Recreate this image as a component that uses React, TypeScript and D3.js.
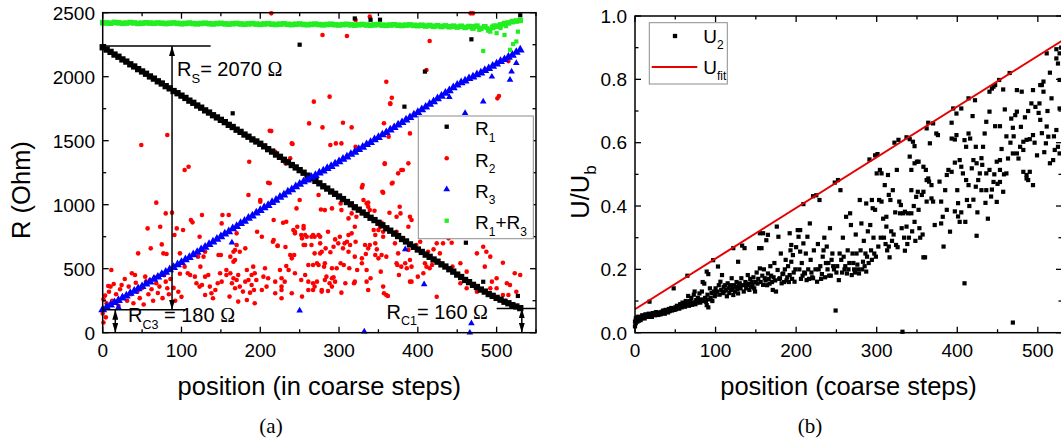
import React from 'react';
import * as d3 from 'd3';

// ---------- data ----------
const STEP = 5; // R1, R3, R1+R3 are listed every 5 coarse steps from 0
const R1 = [2230,2212,2194,2173,2156,2135,2118,2097,2080,2059,2041,2023,2002,1985,1964,1947,1926,1909,1888,1871,1852,1834,1813,1796,1775,1758,1737,1720,1699,1682,1663,1645,1624,1607,1586,1569,1548,1531,1510,1494,1476,1456,1434,1415,1392,1374,1351,1332,1310,1291,1270,1250,1227,1208,1186,1167,1144,1126,1103,1085,1064,1044,1021,1003,980,961,939,920,898,880,859,839,816,797,774,755,732,713,690,671,650,631,610,593,572,555,534,517,496,477,454,435,412,395,374,357,337,321,302,288,272,258,242,230,215,205,192];
const R3 = [180,199,216,236,252,272,288,308,324,344,361,381,397,418,435,456,473,493,510,531,549,570,588,610,628,650,668,690,709,731,750,772,790,813,831,854,872,895,913,936,955,977,995,1018,1036,1059,1077,1100,1118,1141,1160,1179,1194,1214,1229,1249,1264,1284,1299,1319,1336,1356,1373,1394,1411,1432,1449,1470,1487,1508,1526,1546,1564,1585,1603,1624,1642,1663,1681,1702,1721,1743,1763,1786,1805,1829,1848,1871,1891,1914,1935,1953,1967,1986,1999,2016,2029,2049,2064,2083,2100,2119,2134,2153,2169,2191,2210];
const R13 = [2422,2420,2418,2424,2421,2417,2419,2423,2420,2416,2418,2421,2419,2417,2420,2418,2415,2418,2420,2417,2414,2416,2419,2415,2413,2416,2418,2414,2412,2415,2417,2413,2411,2414,2416,2412,2410,2413,2415,2411,2409,2412,2414,2410,2408,2411,2413,2409,2407,2410,2412,2408,2406,2409,2411,2407,2405,2408,2410,2406,2404,2407,2409,2405,2403,2406,2408,2404,2402,2405,2407,2403,2401,2404,2406,2402,2400,2403,2405,2401,2399,2402,2396,2400,2394,2398,2392,2397,2390,2395,2388,2394,2385,2392,2380,2395,2378,2390,2365,2385,2395,2405,2415,2420,2430,2435,2440];
const R1_EXTRA = [[165,1714],[250,2250],[320,2455],[340,2445],[352,2445],[383,1766],[409,2040],[461,703],[468,2292],[483,398],[527,287],[530,2480]];
const R3_EXTRA = [[20,198],[164,704],[250,172],[332,8],[384,652],[408,378],[466,0],[468,73],[440,1840],[460,1716],[483,1806],[494,2000],[517,1975],[519,2040],[525,2106]];
const R13_EXTRA = [[483,2201],[517,2210],[521,2255],[525,2275],[510,2326],[527,2352],[500,2340],[492,2352],[470,2395],[478,2365],[488,2380],[496,2400],[505,2380],[512,2395]];
const R2 = [[0,150],[1,80],[1,260],[3,290],[4,120],[5,230],[7,365],[8,320],[10,360],[11,490],[12,250],[14,380],[17,300],[20,210],[22,340],[24,372],[26,280],[28,420],[31,250],[33,360],[36,300],[37,464],[39,230],[41,451],[42,390],[44,320],[45,620],[47,270],[49,1466],[50,350],[52,220],[54,438],[55,400],[57,815],[58,300],[60,412],[61,659],[62,340],[64,250],[66,430],[68,386],[68,1016],[70,310],[72,360],[73,828],[75,690],[76,270],[77,620],[78,450],[80,399],[80,932],[81,615],[82,347],[82,1544],[84,300],[86,420],[88,938],[90,350],[91,763],[92,250],[94,815],[96,320],[98,460],[98,620],[100,280],[102,802],[104,516],[104,1271],[108,464],[109,1297],[111,451],[112,880],[114,862],[117,438],[119,386],[121,594],[123,750],[123,360],[124,516],[126,373],[126,919],[128,594],[130,295],[130,633],[130,438],[134,451],[136,360],[138,308],[140,269],[143,334],[146,386],[147,607],[149,464],[150,607],[151,399],[151,854],[152,919],[157,451],[157,490],[160,919],[161,282],[162,594],[162,464],[164,386],[166,633],[166,555],[166,425],[168,568],[168,646],[168,347],[170,412],[170,685],[170,776],[172,451],[172,243],[174,633],[174,360],[178,321],[181,659],[181,399],[183,256],[183,490],[185,412],[185,1076],[186,1336],[187,313],[189,373],[189,451],[191,516],[192,334],[193,464],[193,230],[195,412],[196,789],[200,1037],[200,1024],[202,750],[202,334],[204,438],[206,503],[208,360],[210,425],[210,1172],[212,1578],[212,1167],[214,1575],[214,2495],[216,711],[217,880],[217,724],[219,399],[219,308],[219,1414],[222,680],[222,677],[225,490],[227,425],[227,334],[227,269],[227,360],[229,859],[231,399],[232,669],[232,1323],[233,521],[233,867],[236,490],[238,607],[238,1362],[240,581],[240,308],[240,1479],[241,1474],[242,802],[243,607],[244,789],[244,776],[244,464],[246,971],[247,828],[250,1037],[252,763],[252,412],[253,737],[253,282],[255,685],[255,815],[255,833],[257,685],[257,451],[257,763],[259,750],[261,399],[261,529],[261,334],[262,1635],[265,685],[265,750],[267,334],[267,386],[267,529],[267,763],[268,1805],[269,750],[269,360],[269,620],[272,542],[272,399],[274,529],[274,763],[274,1076],[276,620],[276,698],[276,750],[277,963],[278,334],[278,321],[278,633],[279,2326],[279,1604],[281,516],[282,412],[282,542],[282,958],[283,659],[284,438],[286,326],[286,789],[288,386],[288,1844],[289,628],[289,1466],[291,425],[291,971],[291,360],[291,503],[293,433],[293,672],[295,399],[295,729],[296,1479],[297,503],[299,1063],[299,698],[301,750],[302,542],[302,1010],[303,1479],[303,958],[303,313],[305,1640],[305,659],[306,529],[307,698],[308,386],[310,711],[310,2318],[312,893],[312,763],[312,633],[313,503],[314,685],[316,776],[316,998],[316,1604],[316,932],[319,386],[320,399],[320,594],[320,828],[321,711],[321,1453],[321,2443],[322,906],[323,490],[329,1135],[329,581],[329,542],[330,1153],[331,1037],[333,685],[334,615],[335,490],[335,399],[335,1010],[337,334],[337,1016],[337,984],[337,659],[339,685],[339,958],[339,2469],[340,425],[344,802],[345,953],[346,698],[346,763],[346,607],[348,651],[350,802],[350,581],[352,828],[353,477],[354,859],[354,607],[355,1101],[356,750],[356,1094],[356,789],[356,360],[357,308],[357,1636],[358,1318],[358,1323],[360,295],[360,1961],[360,594],[362,287],[363,1531],[364,937],[365,1787],[365,1792],[367,1836],[367,1166],[368,1172],[371,698],[373,906],[373,542],[373,789],[374,529],[375,1245],[375,620],[376,451],[377,984],[378,932],[379,516],[379,1271],[381,1271],[384,542],[386,503],[388,828],[388,1323],[388,646],[390,1557],[390,568],[390,906],[390,399],[392,399],[392,880],[392,516],[398,685],[400,438],[403,711],[403,849],[407,464],[409,542],[411,516],[411,2052],[413,633],[415,2279],[415,503],[418,529],[420,651],[424,698],[424,281],[428,620],[432,698],[439,737],[443,703],[444,516],[454,542],[454,386],[462,477],[462,347],[467,2495],[470,2495],[475,620],[475,320],[483,672],[485,516],[487,633],[492,594],[492,347],[494,399],[500,425],[500,347],[501,1831],[503,1849],[508,547],[508,295],[513,386],[515,2122],[515,295],[517,373],[523,464],[525,320],[530,451]];
const U2 = [[0,0.02],[0,0.035],[1,0.03],[1,0.045],[2,0.04],[3,0.035],[3,0.05],[4,0.042],[5,0.038],[5,0.05],[6,0.045],[7,0.04],[8,0.05],[8,0.045],[9,0.055],[10,0.048],[11,0.052],[12,0.045],[13,0.058],[14,0.05],[15,0.055],[16,0.05],[17,0.06],[18,0.098],[18,0.052],[19,0.058],[20,0.055],[21,0.05],[22,0.062],[23,0.056],[24,0.06],[25,0.055],[26,0.065],[27,0.058],[28,0.062],[29,0.056],[30,0.064],[31,0.06],[32,0.058],[33,0.066],[34,0.062],[35,0.07],[36,0.064],[37,0.06],[38,0.072],[39,0.066],[40,0.07],[41,0.064],[42,0.075],[43,0.068],[44,0.072],[45,0.078],[46,0.07],[47,0.075],[48,0.14],[49,0.072],[50,0.08],[51,0.074],[52,0.085],[53,0.078],[54,0.082],[55,0.076],[56,0.09],[57,0.084],[58,0.08],[59,0.095],[60,0.085],[61,0.09],[62,0.082],[63,0.1],[64,0.088],[65,0.18],[66,0.095],[66,0.116],[67,0.085],[68,0.1],[69,0.092],[70,0.11],[71,0.088],[72,0.096],[73,0.12],[74,0.13],[75,0.09],[76,0.103],[77,0.095],[78,0.11],[79,0.1],[80,0.124],[81,0.095],[82,0.105],[83,0.13],[84,0.16],[85,0.1],[86,0.155],[87,0.11],[88,0.098],[89,0.193],[89,0.087],[90,0.12],[91,0.185],[91,0.08],[92,0.105],[93,0.14],[94,0.11],[95,0.125],[96,0.1],[97,0.229],[98,0.13],[99,0.115],[100,0.14],[100,0.12],[102,0.13],[103,0.209],[104,0.15],[105,0.12],[106,0.161],[107,0.135],[108,0.182],[109,0.125],[110,0.145],[111,0.13],[112,0.15],[113,0.135],[114,0.115],[115,0.156],[116,0.14],[117,0.125],[118,0.15],[119,0.135],[120,0.172],[121,0.14],[122,0.119],[122,0.267],[123,0.15],[124,0.13],[125,0.145],[126,0.16],[127,0.138],[128,0.124],[128,0.224],[129,0.15],[130,0.156],[131,0.14],[132,0.172],[133,0.275],[134,0.15],[135,0.13],[136,0.267],[137,0.16],[138,0.14],[139,0.15],[140,0.182],[141,0.155],[142,0.135],[143,0.17],[144,0.145],[145,0.16],[146,0.15],[147,0.175],[148,0.14],[149,0.13],[150,0.16],[151,0.19],[152,0.155],[153,0.17],[154,0.267],[155,0.203],[155,0.314],[156,0.16],[157,0.267],[158,0.18],[159,0.151],[159,0.314],[160,0.2],[161,0.172],[162,0.165],[163,0.292],[164,0.15],[165,0.187],[165,0.309],[166,0.17],[167,0.155],[168,0.21],[169,0.18],[170,0.16],[171,0.135],[172,0.175],[173,0.22],[174,0.165],[175,0.13],[176,0.335],[177,0.198],[178,0.303],[179,0.17],[180,0.172],[181,0.25],[182,0.156],[183,0.185],[184,0.187],[185,0.16],[186,0.2],[187,0.23],[188,0.165],[189,0.175],[190,0.21],[191,0.16],[192,0.182],[192,0.314],[193,0.26],[194,0.224],[194,0.277],[195,0.17],[196,0.245],[197,0.19],[198,0.161],[199,0.2],[200,0.27],[202,0.324],[203,0.303],[204,0.2],[205,0.256],[205,0.324],[206,0.17],[207,0.22],[208,0.18],[209,0.282],[209,0.406],[210,0.19],[211,0.187],[212,0.25],[213,0.166],[214,0.303],[215,0.2],[216,0.17],[217,0.345],[218,0.23],[219,0.19],[220,0.175],[221,0.172],[221,0.431],[222,0.26],[224,0.2],[225,0.434],[226,0.161],[227,0.28],[228,0.2],[229,0.419],[230,0.21],[231,0.17],[232,0.185],[233,0.24],[234,0.26],[235,0.3],[236,0.175],[237,0.22],[238,0.272],[239,0.2],[240,0.22],[241,0.18],[242,0.33],[243,0.18],[244,0.23],[245,0.25],[246,0.21],[247,0.2],[248,0.474],[249,0.07],[250,0.19],[251,0.21],[252,0.482],[253,0.166],[254,0.25],[255,0.45],[256,0.23],[257,0.19],[258,0.3],[259,0.24],[260,0.2],[261,0.21],[262,0.366],[263,0.187],[264,0.26],[265,0.2],[266,0.22],[267,0.377],[268,0.34],[269,0.182],[270,0.25],[271,0.22],[272,0.2],[273,0.19],[274,0.31],[275,0.25],[276,0.215],[277,0.2],[278,0.187],[279,0.419],[280,0.26],[281,0.345],[282,0.2],[283,0.224],[284,0.29],[285,0.21],[286,0.25],[287,0.193],[287,0.408],[288,0.24],[289,0.32],[290,0.22],[291,0.547],[292,0.34],[293,0.26],[294,0.23],[294,0.419],[295,0.393],[296,0.3],[297,0.25],[298,0.56],[298,0.388],[299,0.24],[300,0.503],[301,0.564],[302,0.272],[303,0.419],[304,0.514],[305,0.3],[306,0.503],[306,0.414],[308,0.36],[309,0.3],[310,0.466],[311,0.28],[312,0.335],[312,0.366],[313,0.26],[314,0.498],[315,0.272],[315,0.435],[316,0.238],[317,0.419],[318,0.32],[319,0.29],[320,0.45],[321,0.31],[322,0.6],[323,0.38],[324,0.277],[325,0.514],[326,0.27],[327,0.609],[328,0.414],[329,0.377],[330,0.403],[331,0.33],[332,0.003],[333,0.377],[334,0.3],[335,0.382],[335,0.259],[337,0.617],[337,0.335],[338,0.28],[339,0.377],[340,0.3],[341,0.611],[341,0.556],[343,0.45],[343,0.514],[343,0.377],[344,0.32],[345,0.603],[346,0.4],[347,0.589],[347,0.535],[347,0.35],[348,0.29],[349,0.429],[350,0.54],[351,0.445],[352,0.388],[352,0.54],[353,0.33],[354,0.3],[356,0.435],[357,0.31],[358,0.445],[358,0.524],[358,0.238],[360,0.238],[361,0.514],[362,0.414],[362,0.645],[362,0.482],[364,0.663],[364,0.487],[365,0.477],[366,0.598],[368,0.466],[368,0.424],[370,0.661],[370,0.414],[372,0.34],[374,0.629],[376,0.624],[378,0.477],[380,0.414],[380,0.345],[382,0.366],[383,0.272],[385,0.45],[387,0.498],[387,0.388],[389,0.514],[391,0.319],[393,0.663],[393,0.613],[393,0.508],[395,0.708],[397,0.537],[397,0.61],[397,0.383],[399,0.692],[399,0.624],[400,0.45],[401,0.409],[401,0.367],[403,0.545],[403,0.35],[405,0.708],[405,0.524],[405,0.38],[407,0.503],[409,0.608],[409,0.156],[410,0.35],[411,0.587],[411,0.482],[412,0.419],[414,0.74],[414,0.629],[414,0.466],[415,0.4],[416,0.613],[418,0.519],[419,0.684],[420,0.545],[420,0.42],[422,0.734],[423,0.587],[423,0.461],[424,0.306],[424,0.535],[425,0.38],[426,0.482],[428,0.503],[430,0.551],[430,0.45],[431,0.53],[432,0.587],[434,0.629],[435,0.41],[436,0.666],[436,0.503],[436,0.45],[438,0.36],[440,0.761],[440,0.698],[440,0.514],[442,0.43],[443,0.771],[443,0.452],[445,0.777],[445,0.476],[446,0.5],[447,0.782],[447,0.652],[449,0.54],[449,0.413],[450,0.47],[452,0.798],[453,0.652],[453,0.545],[453,0.514],[453,0.476],[455,0.58],[457,0.768],[457,0.445],[458,0.5],[459,0.705],[461,0.62],[461,0.503],[463,0.55],[465,0.82],[466,0.6],[467,0.676],[469,0.647],[469,0.566],[469,0.032],[470,0.62],[472,0.687],[474,0.766],[474,0.698],[474,0.566],[476,0.55],[478,0.587],[479,0.65],[480,0.761],[482,0.603],[482,0.577],[482,0.508],[484,0.68],[486,0.609],[486,0.498],[486,0.487],[488,0.482],[488,0.7],[490,0.611],[490,0.508],[492,0.724],[494,0.766],[494,0.624],[494,0.466],[496,0.6],[497,0.713],[499,0.56],[501,0.694],[502,0.724],[503,0.782],[503,0.672],[505,0.63],[505,0.782],[507,0.793],[507,0.761],[508,0.57],[510,0.598],[511,0.882],[511,0.651],[512,0.7],[513,0.619],[515,0.821],[515,0.535],[517,0.74],[519,0.545],[520,0.62],[521,0.577],[523,0.895],[523,0.866],[523,0.64],[525,0.587],[525,0.85],[527,0.882],[527,0.798],[527,0.708],[527,0.566],[529,0.9]];
const U_FIT = [[0, 0.074], [530, 0.922]];

const X_MAJOR = [0, 100, 200, 300, 400, 500];
const X_MINOR_L = [50, 150, 250, 350, 450, 550];
const X_MINOR_R = [50, 150, 250, 350, 450];
const Y_MAJOR_L = [0, 500, 1000, 1500, 2000, 2500];
const Y_MINOR_L = [250, 750, 1250, 1750, 2250];
const Y_MAJOR_R = [0, 0.2, 0.4, 0.6, 0.8, 1.0];
const Y_MINOR_R = [0.1, 0.3, 0.5, 0.7, 0.9];

// ---------- layout ----------
const W = 1061, H = 446;
const FONT = "'Liberation Sans', Arial, Helvetica, sans-serif";
const SERIF = "'Liberation Serif', 'DejaVu Serif', serif";
const GREEN = '#22ee22';

const xL = d3.scaleLinear().domain([0, 550]).range([102.7, 536]);
const yL = d3.scaleLinear().domain([0, 2500]).range([332.7, 12.7]);
const xR = d3.scaleLinear().domain([0, 530]).range([635, 1062]);
const yR = d3.scaleLinear().domain([0, 1]).range([332.7, 16]);

const triPath = d3.symbol().type(d3.symbolTriangle).size(34)();
const triSmall = d3.symbol().type(d3.symbolTriangle).size(19)();
const triLegend = d3.symbol().type(d3.symbolTriangle).size(20)();

function Frame({ x, y, xMinor, yMajor, yMinor, yFmt, yLabelX }) {
  const [x0, x1] = x.range();
  const [y0, y1] = y.range();
  const MAJ = 6, MIN = 3.5;
  const t = [];
  X_MAJOR.forEach((v) => {
    const px = x(v);
    t.push(<line key={'xb' + v} x1={px} x2={px} y1={y0} y2={y0 - MAJ} />);
    t.push(<line key={'xt' + v} x1={px} x2={px} y1={y1} y2={y1 + MAJ} />);
  });
  xMinor.forEach((v) => {
    const px = x(v);
    t.push(<line key={'xbm' + v} x1={px} x2={px} y1={y0} y2={y0 - MIN} />);
    t.push(<line key={'xtm' + v} x1={px} x2={px} y1={y1} y2={y1 + MIN} />);
  });
  yMajor.forEach((v) => {
    const py = y(v);
    t.push(<line key={'yl' + v} x1={x0} x2={x0 + MAJ} y1={py} y2={py} />);
    t.push(<line key={'yr' + v} x1={x1} x2={x1 - MAJ} y1={py} y2={py} />);
  });
  yMinor.forEach((v) => {
    const py = y(v);
    t.push(<line key={'ylm' + v} x1={x0} x2={x0 + MIN} y1={py} y2={py} />);
    t.push(<line key={'yrm' + v} x1={x1} x2={x1 - MIN} y1={py} y2={py} />);
  });
  return (
    <g>
      <g stroke="#000" strokeWidth={1.3}>{t}</g>
      <rect x={x0} y={y1} width={x1 - x0} height={y0 - y1} fill="none" stroke="#000" strokeWidth={1.5} />
      <g fontFamily={FONT} fontSize={19} fill="#000">
        {X_MAJOR.map((v) => (
          <text key={'xl' + v} x={x(v)} y={357} textAnchor="middle">{v}</text>
        ))}
        {yMajor.map((v) => (
          <text key={'yl' + v} x={yLabelX} y={y(v) + 6.8} textAnchor="end">{yFmt(v)}</text>
        ))}
      </g>
    </g>
  );
}

function Square({ cx, cy, s, fill }) {
  return <rect x={cx - s / 2} y={cy - s / 2} width={s} height={s} fill={fill} />;
}

export default function App() {
  const gridPos = (i) => i * STEP;
  return (
    <svg width={W} height={H} style={{ position: 'absolute', left: 0, top: 0, background: '#fff' }}>
      <defs>
        <marker id="ah" viewBox="0 0 10 6" refX="10" refY="3" markerWidth="10" markerHeight="6"
          markerUnits="userSpaceOnUse" orient="auto-start-reverse">
          <path d="M0,0 L10,3 L0,6 z" fill="#000" />
        </marker>
      </defs>
      <rect x={0} y={0} width={W} height={H} fill="#fff" />

      {/* ---------------- panel (a) ---------------- */}
      <g>
        {R2.map(([p, r], i) => (
          <circle key={'r2' + i} cx={xL(p)} cy={yL(r)} r={2.3} fill="#ff0000" />
        ))}
        {R1.map((r, i) => (
          <Square key={'r1' + i} cx={xL(gridPos(i))} cy={yL(r)} s={6.3} fill="#000" />
        ))}
        {R1_EXTRA.map(([p, r], i) => (
          <Square key={'r1e' + i} cx={xL(p)} cy={yL(r)} s={4.2} fill="#000" />
        ))}
        {R3.map((r, i) => (
          <path key={'r3' + i} d={triPath} transform={`translate(${xL(gridPos(i))},${yL(r)})`} fill="#0000ff" />
        ))}
        {R3_EXTRA.map(([p, r], i) => (
          <path key={'r3e' + i} d={triSmall} transform={`translate(${xL(p)},${yL(r)})`} fill="#0000ff" />
        ))}
        {R13.map((r, i) => (
          <Square key={'r13' + i} cx={xL(gridPos(i))} cy={yL(r)} s={5.6} fill={GREEN} />
        ))}
        {R13_EXTRA.map(([p, r], i) => (
          <Square key={'r13e' + i} cx={xL(p)} cy={yL(r)} s={4.2} fill={GREEN} />
        ))}
      </g>

      {/* annotations (a) */}
      <g stroke="#000" strokeWidth={1.5} fill="none">
        <line x1={xL(0)} x2={xL(137)} y1={yL(2240)} y2={yL(2240)} />
        <line x1={xL(88)} x2={xL(88)} y1={yL(2240)} y2={yL(180)} markerStart="url(#ah)" markerEnd="url(#ah)" />
        <line x1={xL(0)} x2={xL(105)} y1={yL(180)} y2={yL(180)} />
        <line x1={xL(16)} x2={xL(16)} y1={yL(180)} y2={yL(0)} markerStart="url(#ah)" markerEnd="url(#ah)" />
        <line x1={xL(500)} x2={xL(550)} y1={yL(190)} y2={yL(190)} />
        <line x1={xL(532)} x2={xL(532)} y1={yL(190)} y2={yL(0)} markerStart="url(#ah)" markerEnd="url(#ah)" />
      </g>
      <g fontFamily={FONT} fontSize={20} fill="#000">
        <text x={177} y={76}>R<tspan fontSize={13} dy={7}>S</tspan><tspan dy={-7}>{'= 2070 '}</tspan><tspan fontFamily={SERIF}>Ω</tspan></text>
        <text x={128} y={322}>R<tspan fontSize={12.5} dy={7}>C3</tspan><tspan dy={-7}>{' = 180 '}</tspan><tspan fontFamily={SERIF}>Ω</tspan></text>
        <text x={386.5} y={318.5}>R<tspan fontSize={12.5} dy={6.5}>C1</tspan><tspan dy={-6.5}>{'= 160 '}</tspan><tspan fontFamily={SERIF}>Ω</tspan></text>
      </g>

      <Frame x={xL} y={yL} xMinor={X_MINOR_L} yMajor={Y_MAJOR_L} yMinor={Y_MINOR_L}
        yFmt={(v) => String(v)} yLabelX={95} />

      {/* legend (a) */}
      <g>
        <rect x={418.3} y={116} width={115} height={122.7} fill="#fff" stroke="#8c8c8c" strokeWidth={1} />
        <Square cx={446.7} cy={126.7} s={4.3} fill="#000" />
        <circle cx={446.7} cy={158.3} r={2.3} fill="#ff0000" />
        <path d={triLegend} transform="translate(446.7,189.3)" fill="#0000ff" />
        <Square cx={446.7} cy={220.7} s={4.3} fill={GREEN} />
        <g fontFamily={FONT} fontSize={19} fill="#000">
          <text x={475} y={135}>R<tspan fontSize={12} dy={6.5}>1</tspan></text>
          <text x={475} y={166.6}>R<tspan fontSize={12} dy={6.5}>2</tspan></text>
          <text x={475} y={197.6}>R<tspan fontSize={12} dy={6.5}>3</tspan></text>
          <text x={475} y={229}>R<tspan fontSize={12} dy={6.5}>1</tspan><tspan dy={-6.5}>+R</tspan><tspan fontSize={12} dy={6.5}>3</tspan></text>
        </g>
      </g>

      {/* titles (a) */}
      <g fontFamily={FONT} fontSize={25.5} fill="#000">
        <text x={319.3} y={395} textAnchor="middle">position (in coarse steps)</text>
        <text transform="translate(30,190) rotate(-90)" textAnchor="middle">R (Ohm)</text>
      </g>
      <text x={271} y={433} textAnchor="middle" fontFamily={SERIF} fontSize={21}>(a)</text>

      {/* ---------------- panel (b) ---------------- */}
      <g>
        {U2.map(([p, u], i) => (
          <Square key={'u2' + i} cx={xR(p)} cy={yR(u)} s={4.2} fill="#000" />
        ))}
        <line x1={xR(U_FIT[0][0])} y1={yR(U_FIT[0][1])} x2={xR(U_FIT[1][0])} y2={yR(U_FIT[1][1])}
          stroke="#e60000" strokeWidth={2} />
      </g>
      <Frame x={xR} y={yR} xMinor={X_MINOR_R} yMajor={Y_MAJOR_R} yMinor={Y_MINOR_R}
        yFmt={d3.format('.1f')} yLabelX={627} />

      {/* legend (b) */}
      <g>
        <rect x={649.3} y={22.7} width={78} height={61.3} fill="#fff" stroke="#8c8c8c" strokeWidth={1} />
        <Square cx={675} cy={36} s={4.3} fill="#000" />
        <line x1={651.7} x2={697.3} y1={67} y2={67} stroke="#e60000" strokeWidth={2} />
        <g fontFamily={FONT} fontSize={19} fill="#000">
          <text x={703.3} y={43.3}>U<tspan fontSize={12} dy={6}>2</tspan></text>
          <text x={703.3} y={74}>U<tspan fontSize={12} dy={6}>fit</tspan></text>
        </g>
      </g>

      {/* titles (b) */}
      <g fontFamily={FONT} fontSize={25.5} fill="#000">
        <text x={848.5} y={395} textAnchor="middle">position (coarse steps)</text>
        <text transform="translate(589,192) rotate(-90)" textAnchor="middle">U/U<tspan fontSize={17} dy={7}>b</tspan></text>
      </g>
      <text x={810} y={433} textAnchor="middle" fontFamily={SERIF} fontSize={21}>(b)</text>
    </svg>
  );
}
